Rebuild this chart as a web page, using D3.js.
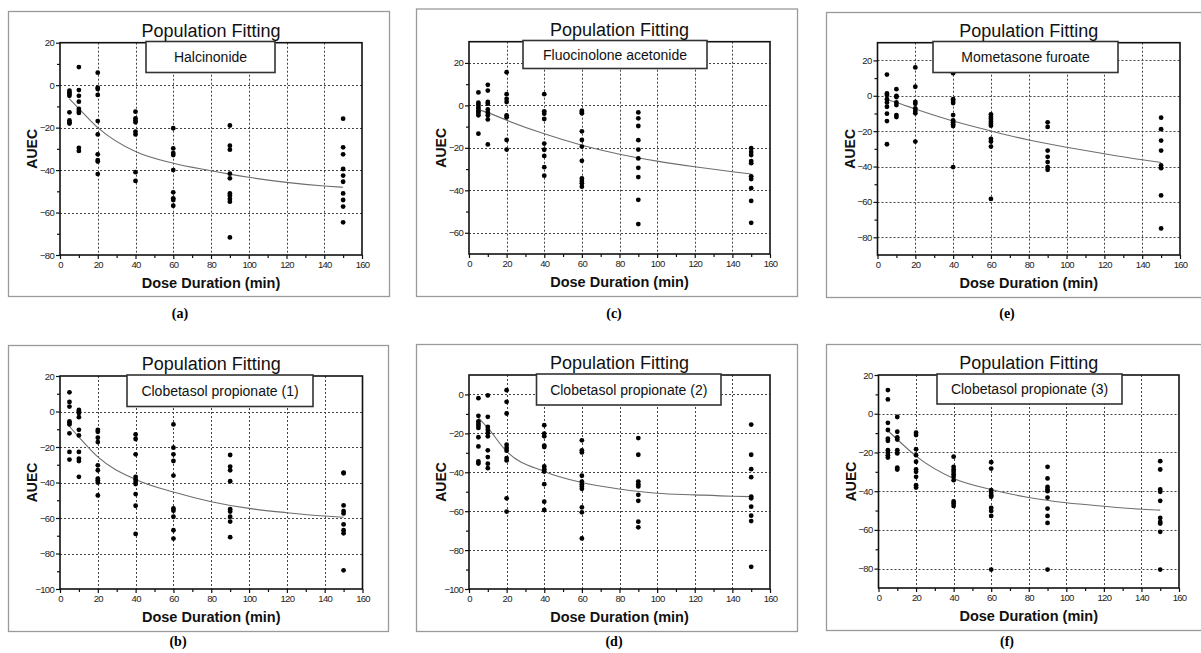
<!DOCTYPE html>
<html>
<head>
<meta charset="utf-8">
<script src="https://cdn.jsdelivr.net/npm/d3@7"></script>
<style>
  html, body { margin: 0; padding: 0; background: #fff; }
  svg { display: block; }
  .tick text { font-family: "Liberation Sans", Arial, sans-serif; }
</style>
</head>
<body>
<svg id="chart" width="1201" height="653"></svg>
<script>
// ---------------- DATA ----------------
const doseLevels = [5, 10, 20, 40, 60, 90, 150];
const fitX = [5, 10, 20, 40, 60, 80, 100, 120, 140, 150];
const xTicks = [0, 20, 40, 60, 80, 100, 120, 140, 160];

// (a) Halcinonide — observed AUEC per dose level
const halcinonideObs = [
  [-2.6, -3.4, -4.2, -5.0, -12.8, -16.6, -17.5, -18.1],
  [8.5, -2.3, -5.0, -7.8, -11.2, -12.2, -13.1, -29.5, -31.0],
  [5.9, -1.2, -1.8, -4.6, -16.9, -23.2, -32.6, -35.3, -36.0, -41.9],
  [-12.5, -15.6, -16.6, -17.5, -21.9, -23.2, -41.0, -45.1],
  [-20.3, -29.8, -32.0, -32.9, -40.0, -50.5, -53.3, -54.1, -56.8],
  [-19.0, -28.5, -30.4, -41.7, -43.9, -51.0, -52.0, -53.6, -54.9, -71.7],
  [-15.8, -29.3, -32.6, -39.5, -42.6, -45.5, -51.0, -54.1, -57.2, -64.6]
];
const halcinonideFit = [-6.5, -11, -20, -31.3, -36.8, -40.3, -43.4, -45.8, -47.5, -48.1];
const halcinonideYTicks = [-80, -60, -40, -20, 0, 20];

// (c) Fluocinolone acetonide
const fluocinoloneObs = [
  [6.1, 1.25, 0.3, -0.8, -1.7, -2.8, -3.6, -4.7, -13.3],
  [9.7, 7.0, 1.6, 0.8, -1.9, -3.4, -4.7, -6.6, -18.4],
  [15.6, 5.3, 3.1, 1.6, -4.7, -5.6, -16.3, -20.8],
  [5.3, -2.8, -3.9, -6.4, -18.0, -20.9, -23.8, -29.1, -33.1],
  [-2.5, -3.1, -3.75, -12.2, -16.3, -19.4, -26.1, -34.4, -35.6, -36.7, -38.3],
  [-3.3, -6.1, -9.7, -16.4, -20.8, -25.0, -29.4, -33.75, -44.5, -55.9],
  [-20.2, -21.9, -23.4, -26.25, -27.2, -33.4, -34.7, -39.0, -45.0, -55.3]
];
const fluocinoloneFit = [-2, -3.4, -7, -13.4, -18.75, -23, -26.25, -28.9, -31.25, -32.3];
const fluocinoloneYTicks = [-60, -40, -20, 0, 20];

// (e) Mometasone furoate
const mometasoneObs = [
  [12.0, 1.3, 0.4, -1.9, -3.75, -6.2, -10.1, -14.3, -27.4],
  [3.75, 0.0, -0.75, -3.75, -5.25, -10.9, -12.0],
  [16.0, 5.1, -3.4, -4.5, -7.1, -8.6, -9.9, -25.9],
  [12.75, -1.9, -3.0, -4.1, -10.9, -13.9, -15.0, -16.1, -17.1, -40.3],
  [-10.5, -12.0, -13.1, -14.6, -15.8, -16.9, -24.4, -25.9, -28.7, -58.3],
  [-15.0, -17.6, -31.0, -34.5, -37.5, -40.3, -41.8],
  [-12.4, -18.9, -25.3, -31.0, -39.4, -40.9, -56.3, -75.0]
];
const mometasoneFit = [-2.25, -3.75, -7.5, -14.3, -19.9, -25, -29.1, -32.8, -36.2, -37.7];
const mometasoneYTicks = [-80, -60, -40, -20, 0, 20];

// (b) Clobetasol propionate (1)
const clobetasol1Obs = [
  [10.8, 5.4, 2.8, -5.6, -6.4, -7.3, -12.3, -22.8, -27.1],
  [0.9, 0.0, -0.9, -3.2, -10.3, -13.5, -22.8, -26.5, -27.9, -36.8],
  [-10.3, -11.4, -14.8, -17.2, -30.3, -33.1, -37.8, -38.7, -40.0, -47.3],
  [-12.9, -15.5, -24.1, -36.8, -38.3, -39.6, -40.9, -46.5, -53.1, -69.0],
  [-7.3, -20.4, -24.1, -27.9, -36.1, -54.6, -55.9, -59.3, -66.9, -71.6],
  [-24.5, -31.0, -33.1, -39.3, -55.0, -56.4, -59.3, -62.0, -70.8],
  [-34.4, -34.8, -52.9, -56.1, -57.4, -63.6, -66.9, -68.6, -89.5]
];
const clobetasol1Fit = [-8.4, -14.4, -25.6, -38.3, -45.4, -50.8, -54.6, -57, -58.9, -59.6];
const clobetasol1YTicks = [-100, -80, -60, -40, -20, 0, 20];

// (d) Clobetasol propionate (2)
const clobetasol2Obs = [
  [-1.9, -11.0, -13.8, -15.0, -16.0, -17.2, -22.0, -26.7, -34.4, -35.5],
  [-0.5, -11.5, -16.7, -18.1, -19.8, -21.5, -28.7, -32.2, -35.6, -37.9],
  [2.2, -3.8, -9.8, -25.8, -27.5, -28.9, -32.7, -33.9, -53.4, -60.2],
  [-15.8, -20.1, -21.5, -26.3, -27.0, -37.0, -38.4, -39.6, -46.1, -55.1, -59.4],
  [-23.6, -28.7, -29.8, -41.8, -44.8, -46.1, -47.3, -48.5, -58.0, -60.6, -74.0],
  [-22.4, -31.0, -44.8, -46.1, -47.3, -51.6, -54.7, -65.4, -68.3],
  [-15.5, -31.0, -38.4, -42.5, -52.5, -53.4, -57.7, -62.3, -65.1, -88.6]
];
const clobetasol2Fit = [-12, -17.2, -29.3, -39.6, -45.3, -48.6, -50.8, -51.6, -52.3, -52.5];
const clobetasol2YTicks = [-100, -80, -60, -40, -20, 0];

// (f) Clobetasol propionate (3)
const clobetasol3Obs = [
  [12.2, 7.4, -4.7, -8.4, -12.9, -14.0, -18.8, -20.2, -21.4, -22.6],
  [-1.7, -9.3, -12.2, -13.3, -18.8, -20.5, -27.8, -28.8],
  [-9.8, -11.0, -18.3, -21.4, -24.8, -28.8, -30.0, -32.6, -36.9, -38.1],
  [-22.2, -27.4, -28.8, -30.0, -31.2, -32.6, -34.3, -45.3, -46.4, -47.6],
  [-25.0, -28.3, -39.5, -40.9, -42.1, -42.9, -48.6, -50.2, -52.8, -80.5],
  [-27.4, -33.4, -37.8, -39.1, -40.0, -43.3, -49.0, -52.8, -56.4, -80.5],
  [-24.5, -28.8, -39.1, -40.3, -45.0, -53.8, -55.9, -56.7, -61.0, -80.5]
];
const clobetasol3Fit = [-8.8, -13.3, -21.9, -33.4, -39.1, -43.3, -46, -47.8, -49.3, -49.8];
const clobetasol3YTicks = [-80, -60, -40, -20, 0, 20];

const drugNames = ["Halcinonide", "Fluocinolone acetonide", "Mometasone furoate",
  "Clobetasol propionate (1)", "Clobetasol propionate (2)", "Clobetasol propionate (3)"];
const panelLabels = ["(a)", "(c)", "(e)", "(b)", "(d)", "(f)"];
const yDomains = [[-80, 20], [-70, 30], [-90, 30], [-100, 20], [-100, 10], [-90, 20]];

// ---------------- LAYOUT ----------------
const panels = [
  { obs: halcinonideObs, fit: halcinonideFit, yTicks: halcinonideYTicks,
    frame: [8, 11, 389, 296], plot: [60, 42.7, 362, 255], box: [146, 41.5, 275, 72.5], lab: [180, 318] },
  { obs: fluocinoloneObs, fit: fluocinoloneFit, yTicks: fluocinoloneYTicks,
    frame: [416, 8.5, 797, 296], plot: [469, 41.7, 770, 254], box: [523, 40.5, 707, 68.5], lab: [614, 318] },
  { obs: mometasoneObs, fit: mometasoneFit, yTicks: mometasoneYTicks,
    frame: [826, 12, 1205, 297], plot: [877.5, 42.7, 1180, 255], box: [933, 41.5, 1118, 72.5], lab: [1007, 318] },
  { obs: clobetasol1Obs, fit: clobetasol1Fit, yTicks: clobetasol1YTicks,
    frame: [8, 345, 388, 631], plot: [60, 376, 362.5, 589], box: [127, 375, 313, 406.5], lab: [178, 646] },
  { obs: clobetasol2Obs, fit: clobetasol2Fit, yTicks: clobetasol2YTicks,
    frame: [416, 344, 797, 631], plot: [469, 375, 770, 589], box: [536.5, 374, 721, 405], lab: [614, 646] },
  { obs: clobetasol3Obs, fit: clobetasol3Fit, yTicks: clobetasol3YTicks,
    frame: [826, 344, 1205, 630], plot: [878.5, 375, 1179, 588], box: [937, 374, 1122, 404], lab: [1007, 646] }
];

const svg = d3.select("#chart");
const sans = "'Liberation Sans', Arial, Helvetica, sans-serif";

panels.forEach((p, i) => {
  const [fx0, fy0, fx1, fy1] = p.frame;
  const [L, T, R, B] = p.plot;
  const g = svg.append("g");

  // outer frame
  g.append("rect").attr("x", fx0 + 0.5).attr("y", fy0 + 0.5)
    .attr("width", fx1 - fx0).attr("height", fy1 - fy0)
    .attr("fill", "#fff").attr("stroke", "#9a9a9a").attr("stroke-width", 1.3);

  const x = d3.scaleLinear().domain([0, 160]).range([L, R]);
  const y = d3.scaleLinear().domain(yDomains[i]).range([B, T]);

  // grid
  const grid = g.append("g").attr("stroke", "#444").attr("stroke-width", 1)
    .attr("stroke-dasharray", "2,2");
  xTicks.filter(v => v > 0 && v < 160).forEach(v => {
    grid.append("line").attr("x1", Math.round(x(v)) + 0.5).attr("x2", Math.round(x(v)) + 0.5)
      .attr("y1", T).attr("y2", B);
  });
  p.yTicks.filter(v => v > yDomains[i][0] && v < yDomains[i][1]).forEach(v => {
    grid.append("line").attr("y1", Math.round(y(v)) + 0.5).attr("y2", Math.round(y(v)) + 0.5)
      .attr("x1", L).attr("x2", R);
  });

  // minor ticks
  const minorX = d3.range(10, 160, 20);
  const minorY = d3.range(yDomains[i][0], yDomains[i][1] + 0.1, 10)
    .filter(v => !p.yTicks.includes(v) && v > yDomains[i][0] && v < yDomains[i][1]);

  // axes
  const xAxis = d3.axisBottom(x).tickValues(xTicks).tickSize(4).tickPadding(2).tickFormat(d3.format("d"));
  const yAxis = d3.axisLeft(y).tickValues(p.yTicks).tickSize(4).tickPadding(2).tickFormat(d3.format("d"));
  const gx = g.append("g").attr("transform", `translate(0,${B})`).call(xAxis);
  const gy = g.append("g").attr("transform", `translate(${L},0)`).call(yAxis);
  [gx, gy].forEach(ax => {
    ax.select(".domain").remove();
    ax.selectAll("line").attr("stroke", "#111").attr("stroke-width", 1.2);
    ax.selectAll("text").attr("fill", "#222").attr("font-size", "9.5px")
      .attr("font-family", sans).attr("letter-spacing", "-0.7px");
  });
  const gxm = g.append("g").attr("transform", `translate(0,${B})`)
    .call(d3.axisBottom(x).tickValues(minorX).tickSize(3).tickFormat(""));
  const gym = g.append("g").attr("transform", `translate(${L},0)`)
    .call(d3.axisLeft(y).tickValues(minorY).tickSize(3).tickFormat(""));
  [gxm, gym].forEach(ax => {
    ax.select(".domain").remove();
    ax.selectAll("line").attr("stroke", "#111").attr("stroke-width", 1.2);
  });

  // plot box
  g.append("rect").attr("x", L).attr("y", T).attr("width", R - L).attr("height", B - T)
    .attr("fill", "none").attr("stroke", "#111").attr("stroke-width", 1.6);

  // fitted curve
  const line = d3.line().x(d => x(d[0])).y(d => y(d[1])).curve(d3.curveMonotoneX);
  g.append("path").datum(fitX.map((v, k) => [v, p.fit[k]]))
    .attr("d", line).attr("fill", "none").attr("stroke", "#6e6e6e").attr("stroke-width", 1.1);

  // observed points
  const pts = [];
  p.obs.forEach((vals, k) => vals.forEach(v => pts.push([doseLevels[k], v])));
  g.append("g").selectAll("circle").data(pts).join("circle")
    .attr("cx", d => x(d[0])).attr("cy", d => y(d[1])).attr("r", 2.4).attr("fill", "#000");

  // legend box
  const [bx0, by0, bx1, by1] = p.box;
  g.append("rect").attr("x", bx0).attr("y", by0).attr("width", bx1 - bx0).attr("height", by1 - by0)
    .attr("fill", "#fff").attr("stroke", "#333").attr("stroke-width", 1.6);
  g.append("text").attr("x", (bx0 + bx1) / 2).attr("y", (by0 + by1) / 2 + 5)
    .attr("text-anchor", "middle").attr("font-family", sans).attr("font-size", "14px")
    .attr("fill", "#111").text(drugNames[i]);

  // title
  g.append("text").attr("x", (L + R) / 2).attr("y", T - 6)
    .attr("text-anchor", "middle").attr("font-family", sans).attr("font-size", "18px")
    .attr("fill", "#111").text("Population Fitting");

  // axis titles
  g.append("text").attr("x", (L + R) / 2).attr("y", B + 33)
    .attr("text-anchor", "middle").attr("font-family", sans).attr("font-size", "14.5px")
    .attr("font-weight", "bold").attr("fill", "#111").text("Dose Duration (min)");
  g.append("text").attr("transform", `translate(${L - 23},${(T + B) / 2}) rotate(-90)`)
    .attr("text-anchor", "middle").attr("font-family", sans).attr("font-size", "14px")
    .attr("font-weight", "bold").attr("fill", "#111").text("AUEC");

  // panel label
  svg.append("text").attr("x", p.lab[0]).attr("y", p.lab[1])
    .attr("text-anchor", "middle").attr("font-family", "'Liberation Serif', 'Times New Roman', serif")
    .attr("font-size", "14px").attr("font-weight", "bold").attr("fill", "#000").text(panelLabels[i]);
});
</script>
</body>
</html>
